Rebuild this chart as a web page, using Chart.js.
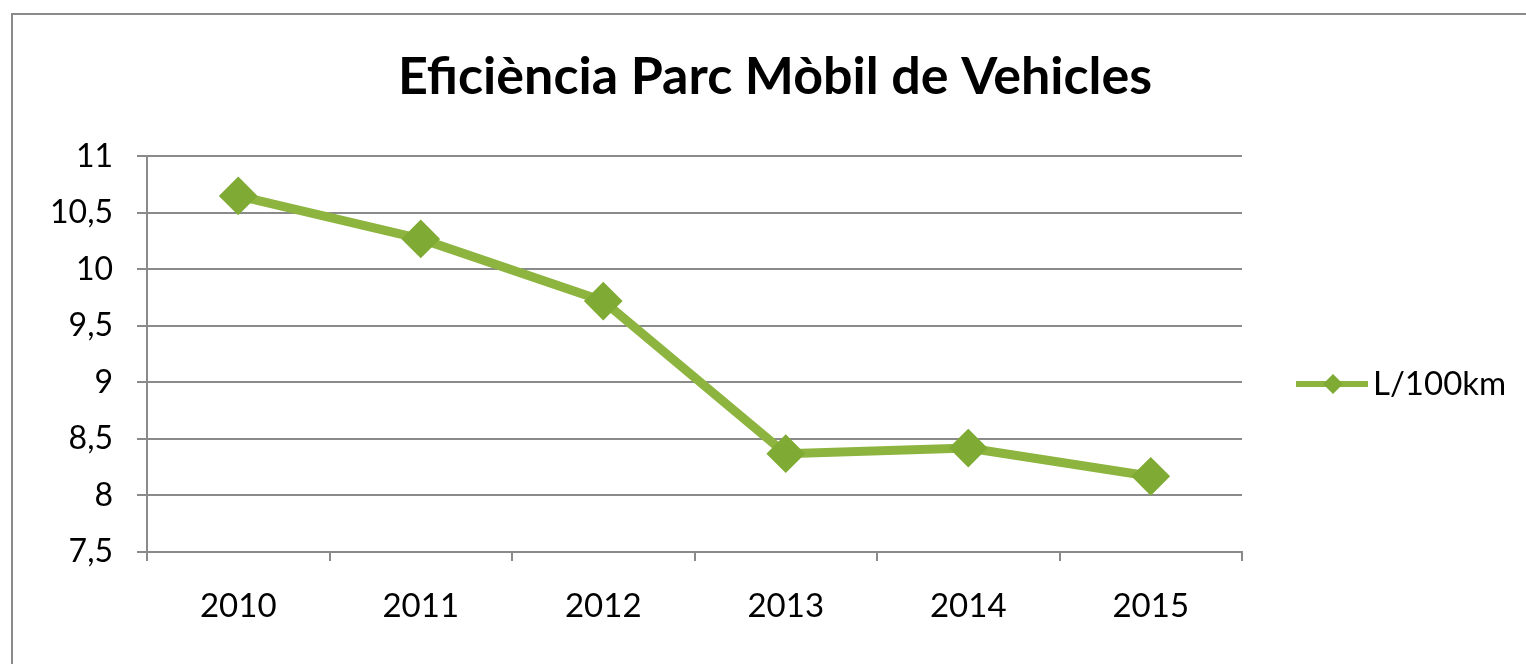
<!DOCTYPE html>
<html>
<head>
<meta charset="utf-8">
<script src="https://cdn.jsdelivr.net/npm/chart.js@4"></script>
<style>
  html, body { margin: 0; padding: 0; background: #fff; overflow: hidden; }
  #frame { position: absolute; left: 11px; top: 13px; width: 1600px; height: 700px; border: 2px solid #8a8a8a; box-sizing: border-box; }
  #wrap { position: absolute; left: 0; top: 0; width: 1526px; height: 664px; }
</style>
</head>
<body>
<div id="frame"></div>
<div id="wrap"><canvas id="myChart"></canvas></div>
<script>
'use strict';

// chart data
let titleText = 'Eficiència Parc Mòbil de Vehicles';
let years = ['2010', '2011', '2012', '2013', '2014', '2015'];
let consumption = [10.65, 10.27, 9.72, 8.37, 8.42, 8.17];
let seriesName = 'L/100km';
let yMin = 7.5;
let yMax = 11;
let yStep = 0.5;

let green = '#8db43e';
let gridGray = '#8a8a8a';
let fontName = 'Lato, "Open Sans", sans-serif';

// legend drawn by hand so it shows line + diamond like the original
let legendPlugin = {
    id: 'lineLegend',
    afterDraw(chart) {
        let ctx = chart.ctx;
        let ds = chart.data.datasets[0];
        let y = 384;
        ctx.save();
        ctx.strokeStyle = ds.borderColor;
        ctx.lineWidth = 6;
        ctx.beginPath();
        ctx.moveTo(1296, y);
        ctx.lineTo(1368, y);
        ctx.stroke();
        ctx.fillStyle = ds.pointBackgroundColor;
        ctx.beginPath();
        ctx.moveTo(1333, y - 10);
        ctx.lineTo(1343, y);
        ctx.lineTo(1333, y + 10);
        ctx.lineTo(1323, y);
        ctx.closePath();
        ctx.fill();
        ctx.fillStyle = '#000';
        ctx.font = '33px ' + fontName;
        ctx.textBaseline = 'middle';
        ctx.fillText(ds.label, 1373, y);
        ctx.restore();
    }
};

function chartRender() {
    let ctx = document.getElementById('myChart').getContext('2d');
    new Chart(ctx, {
        type: 'line',
        data: {
            labels: years,
            datasets: [{
                label: seriesName,
                data: consumption,
                borderColor: green,
                backgroundColor: green,
                pointBackgroundColor: '#7fab34',
                pointBorderColor: '#7fab34',
                borderWidth: 9,
                pointStyle: 'rectRot',
                pointRadius: 13,
                pointHoverRadius: 13,
                tension: 0
            }]
        },
        options: {
            responsive: true,
            maintainAspectRatio: false,
            animation: false,
            layout: { padding: { left: 24, right: 0, top: 0, bottom: 0 } },
            plugins: {
                legend: { display: false },
                tooltip: { enabled: false },
                title: {
                    display: true,
                    text: titleText,
                    color: '#000',
                    font: { family: fontName, size: 52, weight: 'bold', lineHeight: 1.2 },
                    padding: { top: 46, bottom: 48 }
                }
            },
            scales: {
                x: {
                    offset: true,
                    grid: {
                        offset: true,
                        drawOnChartArea: false,
                        color: gridGray,
                        lineWidth: 2,
                        tickLength: 9
                    },
                    border: { color: gridGray, width: 2 },
                    ticks: {
                        color: '#000',
                        font: { family: fontName, size: 33 },
                        padding: 26
                    },
                    afterFit(scale) { scale.height = 112; }
                },
                y: {
                    min: yMin,
                    max: yMax,
                    grid: { color: gridGray, lineWidth: 2, tickLength: 10 },
                    border: { color: gridGray, width: 2 },
                    ticks: {
                        stepSize: yStep,
                        color: '#000',
                        font: { family: fontName, size: 32 },
                        padding: 24,
                        callback: function (v) { return String(v).replace('.', ','); }
                    },
                    afterFit(scale) { scale.width = 123; }
                },
                // empty right axis only reserves room for the legend
                legendSpace: {
                    type: 'linear',
                    position: 'right',
                    display: true,
                    grid: { display: false, drawTicks: false },
                    border: { display: false },
                    ticks: { display: false },
                    afterFit(scale) { scale.width = 284; }
                }
            }
        },
        plugins: [legendPlugin]
    });
}

chartRender();
</script>
</body>
</html>
